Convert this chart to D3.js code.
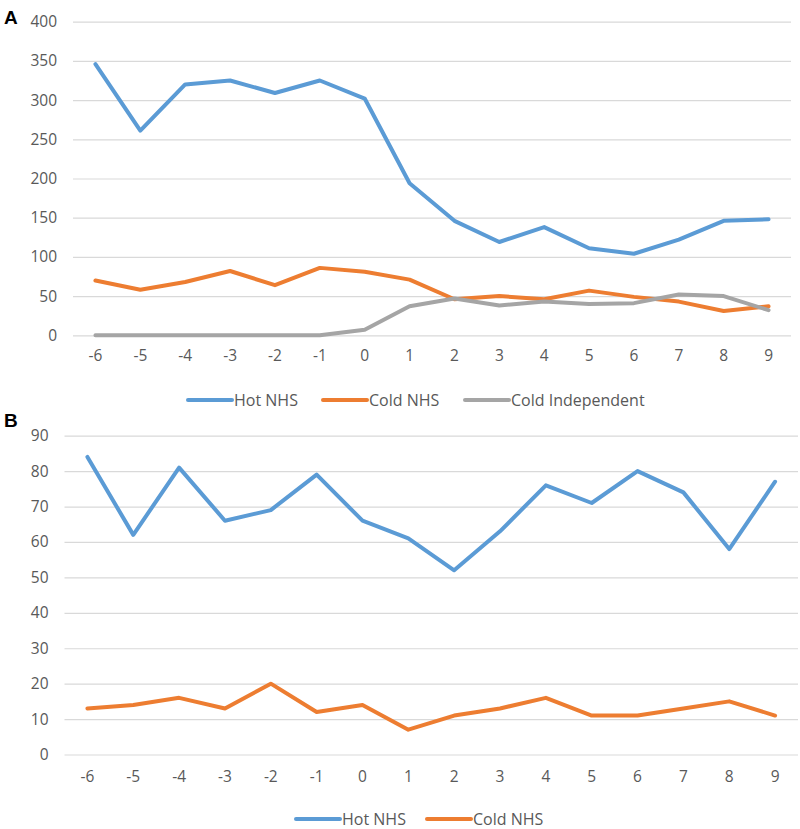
<!DOCTYPE html>
<html>
<head>
<meta charset="utf-8">
<script src="https://cdn.jsdelivr.net/npm/d3@7"></script>
<style>
  html, body { margin: 0; padding: 0; background: #fff; }
  svg { display: block; }
  .tick text { font-family: "Open Sans", sans-serif; font-size: 15.5px; fill: #595959; }
  .leg { font-family: "Open Sans", sans-serif; font-size: 16px; fill: #595959; }
  .panel-label { font-family: "Liberation Sans", Arial, sans-serif; font-weight: bold; font-size: 19px; fill: #000; }
</style>
</head>
<body>
<script>
const categories = ["-6","-5","-4","-3","-2","-1","0","1","2","3","4","5","6","7","8","9"];

// Panel A
const hotNHS_A = [346, 261, 320, 325, 309, 325, 302, 194, 146, 119, 138, 111, 104, 122, 146, 148];
const coldNHS_A = [70, 58, 68, 82, 64, 86, 81, 71, 46, 50, 46, 57, 49, 43, 31, 37];
const coldIndep_A = [0, 0, 0, 0, 0, 0, 7, 37, 47, 38, 43, 40, 41, 52, 50, 32];
const yTicks_A = [0, 50, 100, 150, 200, 250, 300, 350, 400];

// Panel B
const hotNHS_B = [84, 62, 81, 66, 69, 79, 66, 61, 52, 63, 76, 71, 80, 74, 58, 77];
const coldNHS_B = [13, 14, 16, 13, 20, 12, 14, 7, 11, 13, 16, 11, 11, 13, 15, 11];
const yTicks_B = [0, 10, 20, 30, 40, 50, 60, 70, 80, 90];

const seriesNames = ["Hot NHS", "Cold NHS", "Cold Independent"];
const colors = ["#5B9BD5", "#ED7D31", "#A5A5A5"];

const svg = d3.select("body").append("svg").attr("width", 800).attr("height", 829);

function panel(cfg) {
  const g = svg.append("g");
  const x = d3.scaleBand().domain(categories).range([cfg.x0, cfg.x1]);
  const y = d3.scaleLinear().domain([0, d3.max(cfg.yTicks)]).range([cfg.y0, cfg.y1]);
  const cx = c => x(c) + x.bandwidth() / 2;

  // gridlines + y labels
  const ya = g.append("g").attr("transform", `translate(${cfg.x0},0)`)
    .call(d3.axisLeft(y).tickValues(cfg.yTicks).tickSize(-(cfg.x1 - cfg.x0)).tickPadding(16));
  ya.select(".domain").remove();
  ya.selectAll(".tick line").attr("stroke", "#d9d9d9").attr("stroke-width", 1.2);

  // x labels
  const xa = g.append("g").attr("transform", `translate(0,${cfg.y0})`)
    .call(d3.axisBottom(x).tickSize(0).tickPadding(cfg.xPad));
  xa.select(".domain").remove();

  const line = d3.line().x((d, i) => cx(categories[i])).y(d => y(d));
  cfg.series.forEach((s, k) => {
    g.append("path").datum(s)
      .attr("d", line)
      .attr("fill", "none")
      .attr("stroke", colors[k])
      .attr("stroke-width", 4)
      .attr("stroke-linejoin", "round")
      .attr("stroke-linecap", "round");
  });

  // legend
  cfg.legend.forEach((lx, k) => {
    g.append("line")
      .attr("x1", lx).attr("x2", lx + 44)
      .attr("y1", cfg.legY).attr("y2", cfg.legY)
      .attr("stroke", colors[k]).attr("stroke-width", 4).attr("stroke-linecap", "round");
    g.append("text").attr("class", "leg")
      .attr("x", lx + 46).attr("y", cfg.legY).attr("dy", "0.35em")
      .text(seriesNames[k]);
  });

  g.append("text").attr("class", "panel-label")
    .attr("x", 4).attr("y", cfg.labelY).text(cfg.label);
}

panel({
  x0: 73, x1: 791, y0: 335.3, y1: 21.7,
  yTicks: yTicks_A, series: [hotNHS_A, coldNHS_A, coldIndep_A],
  xPad: 15, legend: [188, 323, 465], legY: 400, label: "A", labelY: 24
});

panel({
  x0: 64.5, x1: 798, y0: 754.5, y1: 435.7,
  yTicks: yTicks_B, series: [hotNHS_B, coldNHS_B],
  xPad: 16, legend: [296, 427], legY: 819, label: "B", labelY: 427
});
</script>
</body>
</html>
